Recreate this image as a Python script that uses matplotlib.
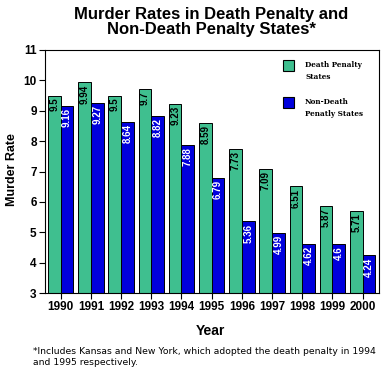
import matplotlib
matplotlib.use('Agg')
import matplotlib.pyplot as plt
from matplotlib.patches import Rectangle
import numpy as np

years = ['1990', '1991', '1992', '1993', '1994', '1995', '1996', '1997', '1998', '1999', '2000']
death_penalty = [9.5, 9.94, 9.5, 9.7, 9.23, 8.59, 7.73, 7.09, 6.51, 5.87, 5.71]
non_death_penalty = [9.16, 9.27, 8.64, 8.82, 7.88, 6.79, 5.36, 4.99, 4.62, 4.6, 4.24]
value_labels_green = ['9.5', '9.94', '9.5', '9.7', '9.23', '8.59', '7.73', '7.09', '6.51', '5.87', '5.71']
value_labels_blue = ['9.16', '9.27', '8.64', '8.82', '7.88', '6.79', '5.36', '4.99', '4.62', '4.6', '4.24']

GREEN = '#3fbf8f'
BLUE = '#0000dd'

plt.rcParams['font.family'] = 'Liberation Sans'

fig = plt.figure(figsize=(3.92, 3.73), dpi=100)
ax = fig.add_axes([45/392, 80/373, 334/392, 243/373])

x = np.arange(len(years))
w = 0.42
ax.bar(x - w/2, death_penalty, width=w, color=GREEN, edgecolor='black', linewidth=0.7)
ax.bar(x + w/2, non_death_penalty, width=w, color=BLUE, edgecolor='black', linewidth=0.7)

for i in range(len(years)):
    ax.text(x[i] - w/2, death_penalty[i] - 0.07, value_labels_green[i], rotation=90,
            ha='center', va='top', fontsize=7, fontweight='bold', color='black')
    ax.text(x[i] + w/2, non_death_penalty[i] - 0.07, value_labels_blue[i], rotation=90,
            ha='center', va='top', fontsize=7, fontweight='bold', color='white')

ax.set_ylim(3, 11)
ax.set_xlim(-0.52, 10.54)
ax.set_yticks(range(3, 12))
ax.set_xticks(x)
ax.set_xticklabels(years)
ax.tick_params(axis='both', length=4, width=0.8, labelsize=8.5, pad=2)
for lbl in ax.get_xticklabels() + ax.get_yticklabels():
    lbl.set_fontweight('bold')
for s in ax.spines.values():
    s.set_linewidth(0.8)

fig.text(12/392, 1 - 170/373, 'Murder Rate', rotation=90, ha='center', va='center',
         fontsize=9, fontweight='bold')
fig.text(210/392, 1 - 331/373, 'Year', ha='center', va='center',
         fontsize=10, fontweight='bold')
fig.text(211/392, 1 - 22/373, 'Murder Rates in Death Penalty and\nNon-Death Penalty States*',
         ha='center', va='center', fontsize=12, fontweight='bold', linespacing=0.95)
fig.text(33/392, 1 - 357/373,
         '*Includes Kansas and New York, which adopted the death penalty in 1994\nand 1995 respectively.',
         ha='left', va='center', fontsize=6.7, family='DejaVu Sans', linespacing=1.2)

# legend
for y0, col, txt in [(60, GREEN, 'Death Penalty\nStates'), (97, BLUE, 'Non-Death\nPenatly States')]:
    fig.patches.append(Rectangle((283/392, 1 - (y0 + 10.5)/373), 10.5/392, 10.5/373,
                                 transform=fig.transFigure, facecolor=col,
                                 edgecolor='black', linewidth=0.8))
    fig.text(305/392, 1 - (y0 + 11)/373, txt, ha='left', va='center', fontsize=5.2,
             family='DejaVu Serif', fontweight='bold', linespacing=1.6)

fig.savefig('out.png', dpi=100)
